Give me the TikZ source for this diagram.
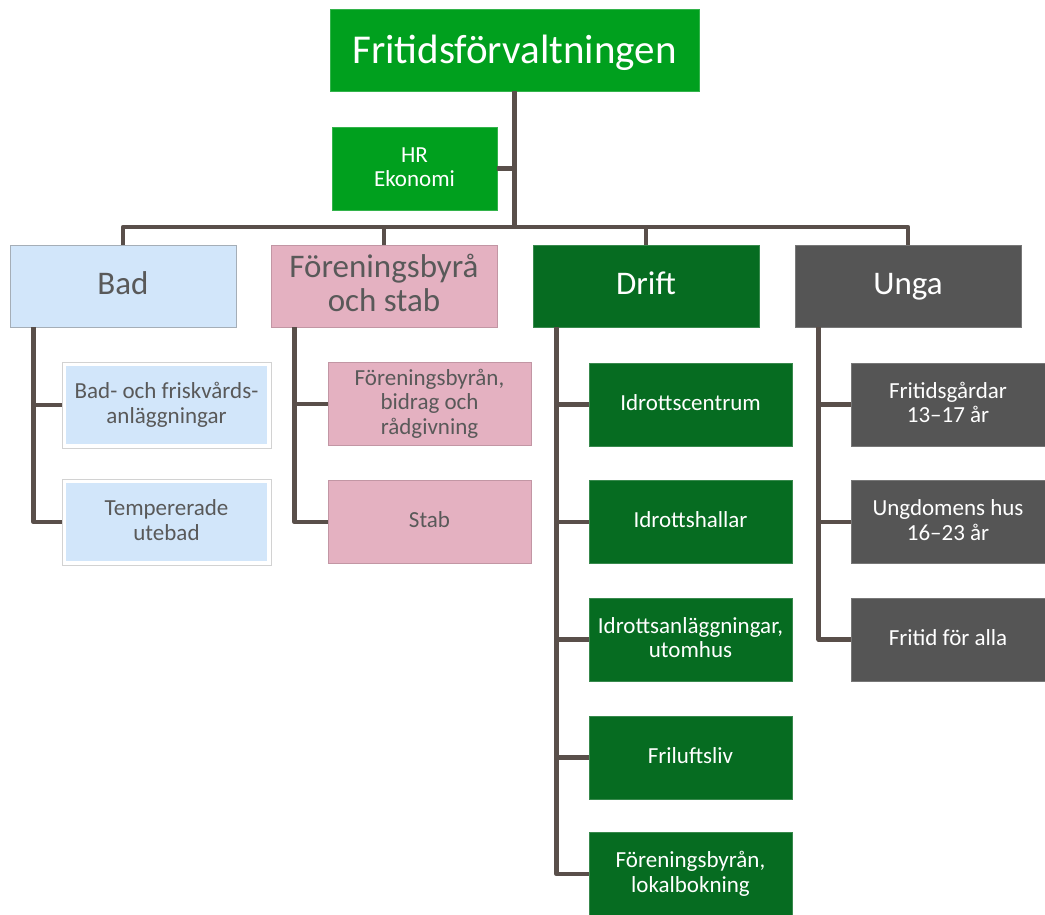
\documentclass[tikz,border=0pt]{standalone}
\usepackage{fontspec}
\setmainfont{Carlito}
\definecolor{topgreen}{HTML}{00A01E}
\definecolor{driftgreen}{HTML}{066C21}
\definecolor{ungagray}{HTML}{555555}
\definecolor{forpink}{HTML}{E4B1C1}
\definecolor{badblue}{HTML}{D2E6FA}
\definecolor{linec}{HTML}{594F4A}
\definecolor{darktext}{HTML}{595959}

\tikzset{
    conn/.style={draw=linec, line width=4.5pt, line join=round},
    orgbox/.style={inner ysep=0pt, align=center, line width=0.6pt},
    topbox/.style={orgbox, fill=topgreen, draw=topgreen!80!white, text=white,
        minimum width=369pt, minimum height=82pt, text height=33pt, text depth=7pt,
        font=\fontsize{41}{45}\selectfont},
    staffbox/.style={orgbox, fill=topgreen, draw=topgreen!80!white, text=white,
        minimum width=165pt, minimum height=83pt, text depth=5.75pt,
        font=\fontsize{23}{24.5}\selectfont},
    headbox/.style={orgbox, minimum width=226pt, minimum height=82pt, text depth=8.25pt,
        font=\fontsize{33}{34}\selectfont},
    subbox/.style={orgbox, minimum width=203pt, minimum height=83pt, text depth=5.75pt,
        font=\fontsize{23}{24.5}\selectfont},
    badcol/.style={fill=badblue, draw=gray!55!badblue, text=darktext},
    forcol/.style={fill=forpink, draw=forpink!85!black, text=darktext},
    driftcol/.style={fill=driftgreen, draw=driftgreen!80!white, text=white},
    ungacol/.style={fill=ungagray, draw=ungagray!80!white, text=white},
    badsub/.style={subbox, fill=badblue, draw=white, line width=4pt, text=darktext,
        minimum width=205pt, minimum height=82pt},
    subframe/.style={draw=gray!35, line width=0.8pt}
}

\begin{document}
\begin{tikzpicture}[x=1pt,y=-1pt]
\useasboundingbox (0,0) rectangle (1045,914);

% top of the tree
\node[topbox] (top) at (514.5,50) {Fritidsförvaltningen};
\node[staffbox, text height=41.75pt] (hr) at (414.5,168.5) {HR\\Ekonomi};

% second level
\node[headbox,badcol,text height=24.75pt] (bad) at (123,286) {Bad};
\node[headbox,forcol,text height=58.75pt] (foren) at (384,286) {Föreningsbyrå\\och stab};
\node[headbox,driftcol,text height=24.75pt] (drift) at (646,286) {Drift};
\node[headbox,ungacol,text height=24.75pt] (unga) at (908,286) {Unga};

% third level (\n = number of text lines)
\foreach \name/\y/\n/\txt [evaluate=\n as \htext using 17.25+(\n-1)*24.5]
        in {bad1/405/2/{Bad- och friskvårds-\\anläggningar}, bad2/522/2/{Tempererade\\utebad}}
    \node[badsub, text height=\htext pt] (\name) at (166.5,\y) {\txt};
\foreach \name in {bad1,bad2}
    \draw[subframe] (\name.south west) rectangle (\name.north east);

\foreach \name/\y/\n/\txt [evaluate=\n as \htext using 17.25+(\n-1)*24.5]
        in {foren1/404/3/{Föreningsbyrån,\\bidrag och\\rådgivning}, foren2/522/1/Stab}
    \node[subbox,forcol, text height=\htext pt] (\name) at (429.5,\y) {\txt};

\foreach \name/\y/\n/\txt [evaluate=\n as \htext using 17.25+(\n-1)*24.5]
        in {drift1/404.5/1/Idrottscentrum, drift2/522/1/Idrottshallar,
        drift3/639.5/2/{Idrottsanläggningar,\\utomhus}, drift4/757.5/1/Friluftsliv,
        drift5/874/2/{Föreningsbyrån,\\lokalbokning}}
    \node[subbox,driftcol, text height=\htext pt] (\name) at (690.5,\y) {\txt};

\foreach \name/\y/\n/\txt [evaluate=\n as \htext using 17.25+(\n-1)*24.5]
        in {unga1/404.5/2/{Fritidsgårdar\\13–17 år}, unga2/522/2/{Ungdomens hus\\16–23 år},
        unga3/639.5/1/Fritid för alla}
    \node[subbox,ungacol,minimum width=194pt, text height=\htext pt] (\name) at (948,\y) {\txt};

% connectors
\coordinate (bus) at (514.5,227);
\draw[conn] (top.south) -- (bus);
\draw[conn] (hr.east) -- (hr.east -| bus);
\draw[conn] (bad.north) |- (bus) -| (unga.north);
\draw[conn] (foren.north) -- (foren.north |- bus);
\draw[conn] (drift.north) -- (drift.north |- bus);

\foreach \parent/\kids in {bad/{bad1,bad2}, foren/{foren1,foren2},
        drift/{drift1,drift2,drift3,drift4,drift5}, unga/{unga1,unga2,unga3}}
    \foreach \kid in \kids
        \draw[conn] (\parent.south west) ++(24,0) |- (\kid.west);
\end{tikzpicture}
\end{document}
